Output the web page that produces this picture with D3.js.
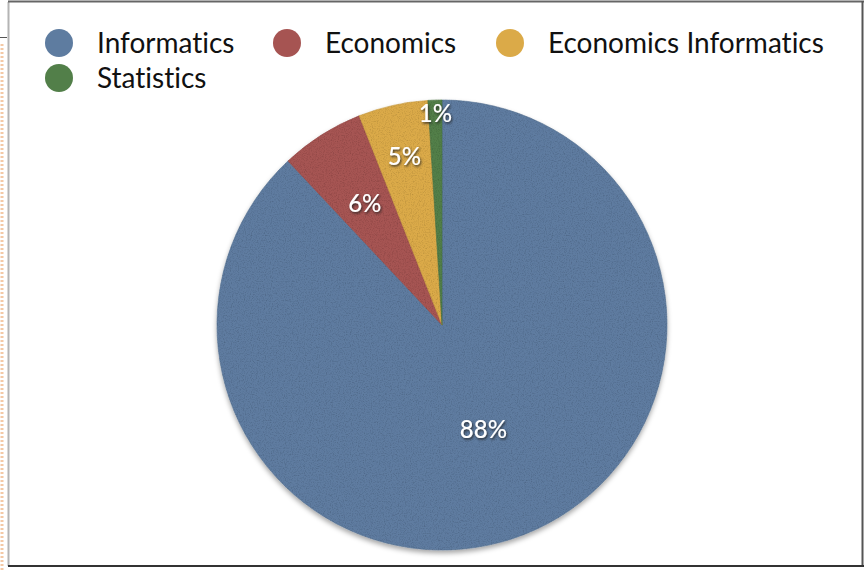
<!DOCTYPE html>
<html>
<head>
<meta charset="utf-8">
<script src="https://cdn.jsdelivr.net/npm/d3@7"></script>
<style>
  html, body { margin: 0; padding: 0; background: #fff; }
  svg { display: block; }
  text { font-variant-ligatures: none; font-feature-settings: "liga" 0; }
</style>
</head>
<body>
<svg id="chart" width="866" height="571"></svg>
<script>
// Share of students by field of study
const categories = ["Informatics", "Economics", "Economics Informatics", "Statistics"];
const shares = [88, 6, 5, 1];
const percentLabels = ["88%", "6%", "5%", "1%"];
const colors = ["#5e7ca0", "#a65452", "#dbaa48", "#527f49"];

const svg = d3.select("#chart");
const font = "Lato, 'Open Sans', sans-serif";

const defs = svg.append("defs");

// fine paper grain over the slices
const grain = defs.append("filter").attr("id", "grain")
  .attr("x", "-5%").attr("y", "-5%").attr("width", "110%").attr("height", "110%");
grain.append("feTurbulence").attr("type", "fractalNoise")
  .attr("baseFrequency", 0.85).attr("numOctaves", 2).attr("seed", 4).attr("result", "noise");
grain.append("feColorMatrix").attr("in", "noise").attr("type", "matrix")
  .attr("values", "0 0 0 0 0  0 0 0 0 0  0 0 0 0 0  0 0 0 -0.7 0.38")
  .attr("result", "dark");
grain.append("feComposite").attr("in", "dark").attr("in2", "SourceGraphic")
  .attr("operator", "in").attr("result", "darkIn");
grain.append("feMerge").selectAll("feMergeNode")
  .data(["SourceGraphic", "darkIn"]).join("feMergeNode").attr("in", d => d);

// soft shadow under the pie
const pieShadow = defs.append("filter").attr("id", "pieShadow")
  .attr("x", "-10%").attr("y", "-10%").attr("width", "120%").attr("height", "125%");
pieShadow.append("feDropShadow").attr("dx", 0).attr("dy", 3)
  .attr("stdDeviation", 2.5).attr("flood-color", "#000").attr("flood-opacity", 0.35);

// dark shadow behind the percentage labels
const textShadow = defs.append("filter").attr("id", "textShadow")
  .attr("x", "-20%").attr("y", "-30%").attr("width", "140%").attr("height", "160%");
textShadow.append("feDropShadow").attr("dx", 1).attr("dy", 1.5)
  .attr("stdDeviation", 1.2).attr("flood-color", "#1a1a1a").attr("flood-opacity", 0.85);

// frame
svg.append("line").attr("x1", 2).attr("x2", 2).attr("y1", 44).attr("y2", 571)
  .attr("stroke", "#f4c9a6").attr("stroke-width", 3).attr("stroke-dasharray", "2,2");
svg.append("line").attr("x1", 0).attr("x2", 7).attr("y1", 37.5).attr("y2", 37.5)
  .attr("stroke", "#555").attr("stroke-width", 1);
svg.append("line").attr("x1", 8.5).attr("x2", 8.5).attr("y1", 2).attr("y2", 566)
  .attr("stroke", "#b4b4b4").attr("stroke-width", 2);
svg.append("line").attr("x1", 8).attr("x2", 864).attr("y1", 1.5).attr("y2", 1.5)
  .attr("stroke", "#666").attr("stroke-width", 2);
svg.append("line").attr("x1", 862.5).attr("x2", 862.5).attr("y1", 1).attr("y2", 566)
  .attr("stroke", "#555").attr("stroke-width", 2);
svg.append("line").attr("x1", 8).attr("x2", 864).attr("y1", 566).attr("y2", 566)
  .attr("stroke", "#333").attr("stroke-width", 2);

// pie
const cx = 442, cy = 325, R = 225;
const pie = d3.pie().sort(null).value(d => d.value);
const arcs = pie(categories.map((c, i) => ({ name: c, value: shares[i], label: percentLabels[i], color: colors[i] })));
const arc = d3.arc().innerRadius(0).outerRadius(R);

const g = svg.append("g").attr("transform", `translate(${cx},${cy})`);
g.append("g").attr("filter", "url(#pieShadow)")
  .append("g").attr("filter", "url(#grain)")
  .selectAll("path").data(arcs).join("path")
  .attr("d", arc)
  .attr("fill", d => d.data.color)
  .attr("stroke", d => d3.color(d.data.color).darker(0.25))
  .attr("stroke-width", 0.6);

// label radius: push narrow wedges outward until the label fits
function labelRadius(d) {
  const span = d.endAngle - d.startAngle;
  const fit = 27 / Math.sin(span / 2);
  return Math.max(0.5 * R, Math.min(0.94 * R, fit));
}

g.selectAll("text.pct").data(arcs).join("text")
  .attr("class", "pct")
  .attr("transform", d => {
    const a = (d.startAngle + d.endAngle) / 2;
    const r = labelRadius(d);
    return `translate(${r * Math.sin(a)},${-r * Math.cos(a)})`;
  })
  .attr("text-anchor", "middle")
  .attr("dy", "0.36em")
  .attr("font-family", font)
  .attr("font-size", 24)
  .attr("font-weight", 500)
  .attr("fill", "#fff")
  .attr("filter", "url(#textShadow)")
  .text(d => d.data.label);

// legend
const legendPos = [
  { x: 59, y: 43 }, { x: 287, y: 43 }, { x: 510, y: 43 }, { x: 59, y: 78 }
];
const legend = svg.append("g").selectAll("g").data(categories).join("g")
  .attr("transform", (d, i) => `translate(${legendPos[i].x},${legendPos[i].y})`);
legend.append("circle").attr("r", 14).attr("fill", (d, i) => colors[i]);
legend.append("text")
  .attr("x", 38).attr("dy", "0.35em")
  .attr("font-family", font).attr("font-size", 28).attr("fill", "#111")
  .text(d => d);
</script>
</body>
</html>
